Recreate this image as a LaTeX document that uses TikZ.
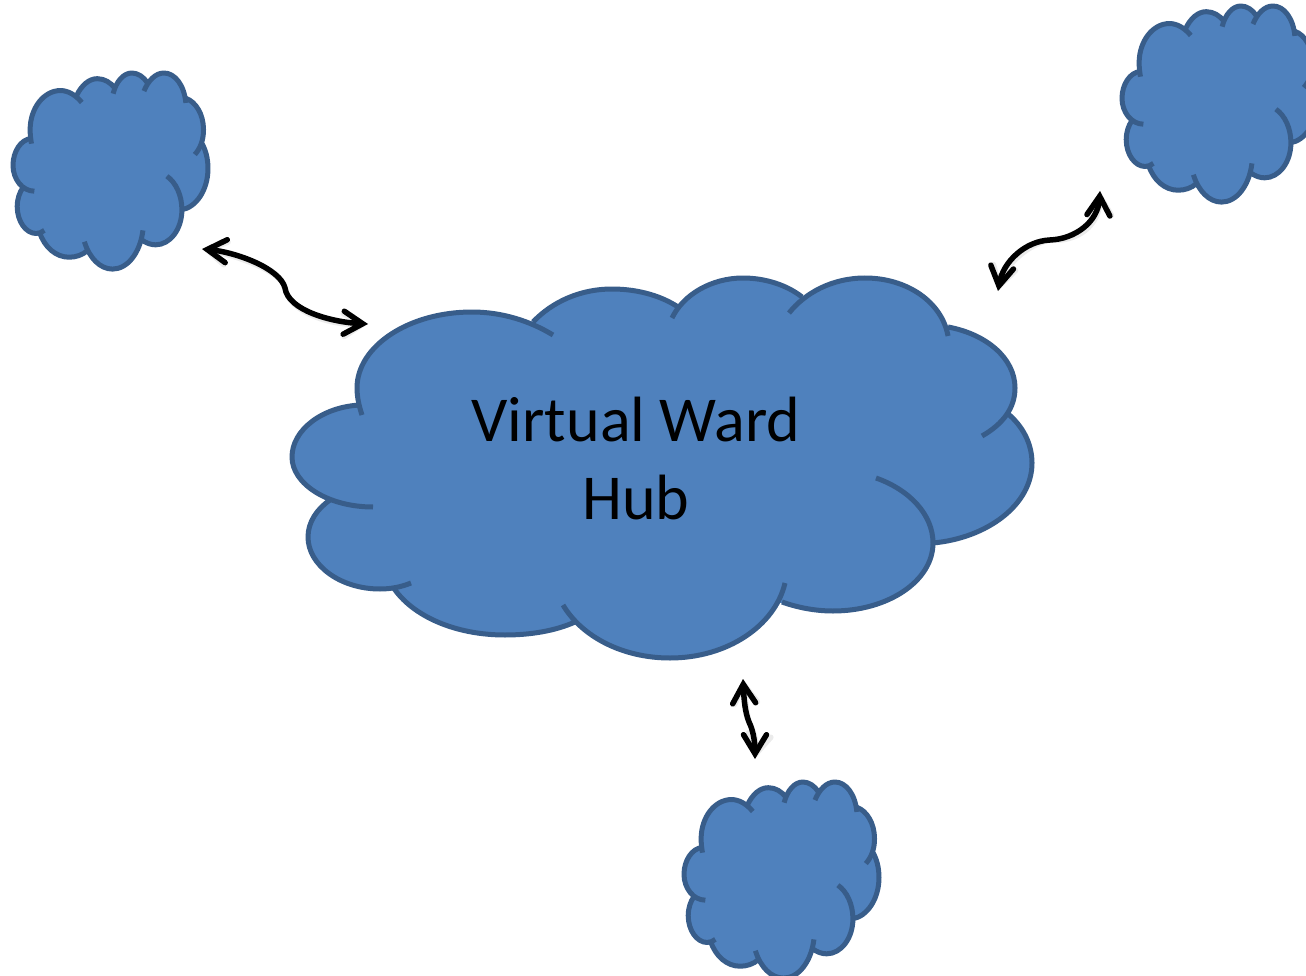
\documentclass[tikz,border=0pt]{standalone}
\usepackage{fontspec}
\setmainfont{Carlito}
\usetikzlibrary{arrows.meta}
\definecolor{cloudfill}{HTML}{4F81BD}
\definecolor{cloudline}{HTML}{385D8A}
\tikzset{
  lobefill/.style={fill=cloudfill,draw=none},
  lobeline/.style={draw=cloudline,line width=5pt,line cap=butt,line join=round},
  link/.style={draw=black,line width=5.5pt,
    {Straight Barb[length=19pt,width=23pt,line cap=round,line join=miter]}-{Straight Barb[length=19pt,width=23pt,line cap=round,line join=miter]}},
}
\newcommand{\lobes}[1]{%
  \path[#1] (362,415) .. controls (359,406) and (357,397) .. (357,388) .. controls (357,346) and (409,312) .. (472,312) .. controls (502,312) and (530,321) .. (553,335);
  \path[#1] (533,322) .. controls (552,302) and (580,289) .. (612,289) .. controls (640,289) and (663,297) .. (678,307);
  \path[#1] (672,318) .. controls (683,295) and (711,278) .. (743,278) .. controls (765,278) and (787,285) .. (802,297);
  \path[#1] (789,313) .. controls (805,293) and (832,278) .. (865,278) .. controls (907,278) and (942,302) .. (948,336);
  \path[#1] (948,327) .. controls (986,334) and (1015,358) .. (1015,388) .. controls (1015,408) and (1003,424) .. (982,436);
  \path[#1] (1007,413) .. controls (1023,426) and (1032,444) .. (1032,463) .. controls (1032,505) and (987,538) .. (933,543);
  \path[#1] (876,478) .. controls (910,490) and (933,515) .. (933,543) .. controls (933,581) and (888,611) .. (833,611) .. controls (814,611) and (796,607) .. (782,602);
  \path[#1] (785,583) .. controls (775,626) and (727,658) .. (670,658) .. controls (623,658) and (582,637) .. (563,605);
  \path[#1] (575,622) .. controls (555,631) and (530,635) .. (505,635) .. controls (455,635) and (412,616) .. (393,587);
  \path[#1] (411,583) .. controls (401,587) and (391,589) .. (380,589) .. controls (340,589) and (308,565) .. (308,537) .. controls (308,522) and (317,509) .. (330,500);
  \path[#1] (373,507) .. controls (328,507) and (292,484) .. (292,457) .. controls (292,430) and (322,407) .. (360,405);
}
\newcommand{\cloudshape}{%
  \lobes{lobefill}
  \path[fill=cloudfill,draw=cloudfill,line width=1.5pt,line join=round] (360,405)--(533,322)--(678,307)--(802,297)--(948,327)--(1007,413)--(933,543)--(782,602)--(575,622)--(393,587)--(330,500)--cycle;
  \lobes{lobeline}
}
\begin{document}
\begin{tikzpicture}[x=1pt,y=-1pt]
\useasboundingbox (0,0) rectangle (1306,976);
\clip (0,0) rectangle (1306,976);
\fill[white] (0,0) rectangle (1306,976);
% clouds
\begin{scope}\cloudshape\end{scope}
\begin{scope}[shift={(13,73)},xscale=0.2635,yscale=0.516,shift={(-292,-278)}]\cloudshape\end{scope}
\begin{scope}[shift={(1122,6)},xscale=0.2635,yscale=0.516,shift={(-292,-278)}]\cloudshape\end{scope}
\begin{scope}[shift={(684,782)},xscale=0.2635,yscale=0.516,shift={(-292,-278)}]\cloudshape\end{scope}
\node[align=center,font=\fontsize{64pt}{78pt}\selectfont,text=black,inner sep=0pt] (hub) at (636,459) {Virtual Ward\\Hub};
% connector ends
\coordinate (leftA) at (202,249);
\coordinate (leftM) at (285,288);
\coordinate (leftB) at (368,324);
\coordinate (rightA) at (998,291);
\coordinate (rightM) at (1050,240);
\coordinate (rightB) at (1100,191);
\coordinate (downA) at (743,679);
\coordinate (downM) at (749,722);
\coordinate (downB) at (755,759);
% shadows
\begin{scope}[opacity=0.08,shift={(2,3.5)}]
\draw[link] (leftA) .. controls (235,252) and (280,268) .. (leftM) .. controls (288,310) and (330,322) .. (leftB);
\draw[link] (rightA) .. controls (1003,262) and (1025,241) .. (rightM) .. controls (1075,239) and (1098,222) .. (rightB);
\draw[link] (downA) .. controls (744,700) and (745,712) .. (downM) .. controls (754,732) and (755,745) .. (downB);
\end{scope}
\draw[link] (leftA) .. controls (235,252) and (280,268) .. (leftM) .. controls (288,310) and (330,322) .. (leftB);
\draw[link] (rightA) .. controls (1003,262) and (1025,241) .. (rightM) .. controls (1075,239) and (1098,222) .. (rightB);
\draw[link] (downA) .. controls (744,700) and (745,712) .. (downM) .. controls (754,732) and (755,745) .. (downB);
\end{tikzpicture}
\end{document}
